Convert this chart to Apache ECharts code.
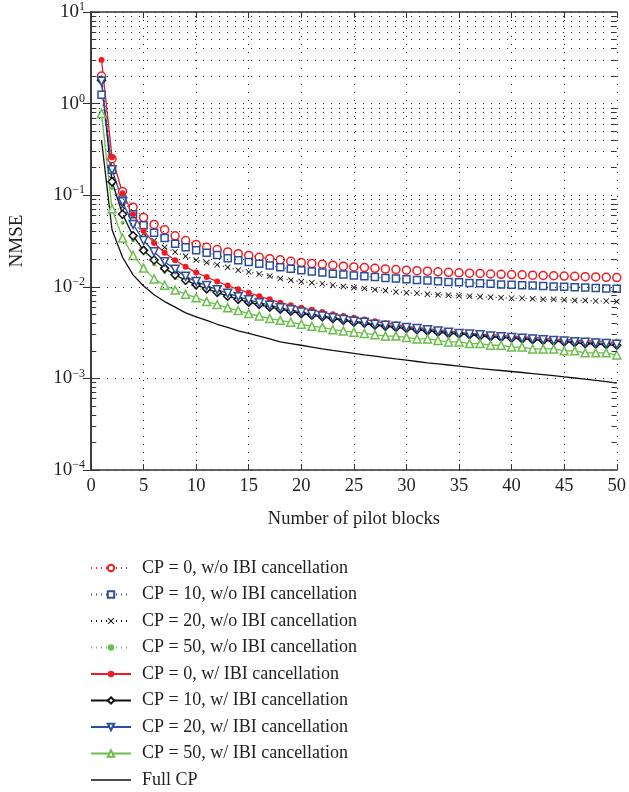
<!DOCTYPE html>
<html>
<head>
<meta charset="utf-8">
<script src="https://cdn.jsdelivr.net/npm/echarts@6/dist/echarts.min.js"></script>
<style>
  html, body { margin: 0; padding: 0; background: #fff; }
  #main { width: 629px; height: 792px; }
</style>
</head>
<body>
<div id="main"></div>
<script>
// number of pilot blocks
var blocks = [];
for (var i = 1; i <= 50; i++) blocks.push(i);

var seriesNames = [
  "CP = 0, w/o IBI cancellation",
  "CP = 10, w/o IBI cancellation",
  "CP = 20, w/o IBI cancellation",
  "CP = 50, w/o IBI cancellation",
  "CP = 0, w/ IBI cancellation",
  "CP = 10, w/ IBI cancellation",
  "CP = 20, w/ IBI cancellation",
  "CP = 50, w/ IBI cancellation",
  "Full CP"
];

var cp0NoCanc = [2.0, 0.25, 0.11, 0.074, 0.057, 0.048, 0.042, 0.036, 0.032, 0.029,
  0.027, 0.0255, 0.024, 0.023, 0.022, 0.021, 0.0203, 0.0197, 0.019, 0.0184,
  0.018, 0.0176, 0.0172, 0.0168, 0.0165, 0.0162, 0.0159, 0.0156, 0.0154, 0.0152,
  0.015, 0.0148, 0.0146, 0.0144, 0.0142, 0.0141, 0.014, 0.0138, 0.0137, 0.0136,
  0.0135, 0.0134, 0.0133, 0.0132, 0.0131, 0.013, 0.0129, 0.0128, 0.0127, 0.0126];

var cp10NoCanc = [1.25, 0.19, 0.09, 0.062, 0.047, 0.039, 0.034, 0.0295, 0.027, 0.025,
  0.0235, 0.0222, 0.0205, 0.0195, 0.0186, 0.0178, 0.0171, 0.0163, 0.0157, 0.0152,
  0.0147, 0.0143, 0.0139, 0.0136, 0.0133, 0.013, 0.0128, 0.0125, 0.0123, 0.0121,
  0.0119, 0.0117, 0.0115, 0.0113, 0.0112, 0.011, 0.0109, 0.0108, 0.0106, 0.0105,
  0.0104, 0.0103, 0.0102, 0.0101, 0.01, 0.0099, 0.0098, 0.0097, 0.0096, 0.0095];

var cp20NoCanc = [1.8, 0.15, 0.075, 0.05, 0.038, 0.032, 0.027, 0.024, 0.0215, 0.0196,
  0.0184, 0.0174, 0.0163, 0.0152, 0.0145, 0.0138, 0.0131, 0.0123, 0.0118, 0.0114,
  0.0111, 0.0108, 0.0104, 0.0101, 0.0098, 0.0096, 0.0093, 0.0091, 0.0088, 0.0086,
  0.0085, 0.0083, 0.0082, 0.0081, 0.008, 0.0079, 0.0078, 0.0077, 0.0076, 0.0075,
  0.0075, 0.0074, 0.0073, 0.0073, 0.0072, 0.0071, 0.0071, 0.007, 0.007, 0.0069];

var cp50NoCanc = [0.75, 0.12, 0.05, 0.032, 0.024, 0.0175, 0.0145, 0.0125, 0.011, 0.0098,
  0.009, 0.0083, 0.0077, 0.0072, 0.0067, 0.0063, 0.006, 0.0057, 0.0054, 0.0051,
  0.0049, 0.0047, 0.0045, 0.0043, 0.0042, 0.004, 0.0039, 0.0038, 0.0037, 0.0036,
  0.0035, 0.0034, 0.0033, 0.0033, 0.0032, 0.0031, 0.0031, 0.003, 0.003, 0.0029,
  0.0029, 0.0028, 0.0028, 0.0027, 0.0027, 0.0027, 0.0026, 0.0026, 0.0026, 0.0026];

var cp0Canc = [3.0, 0.26, 0.105, 0.062, 0.041, 0.030, 0.0235, 0.0195, 0.0166, 0.0143,
  0.0128, 0.0114, 0.0103, 0.0094, 0.0086, 0.0079, 0.0073, 0.0067, 0.0063, 0.0059,
  0.0056, 0.0053, 0.005, 0.0048, 0.0046, 0.0044, 0.0042, 0.004, 0.0039, 0.0037,
  0.0036, 0.0035, 0.0034, 0.0033, 0.0032, 0.0031, 0.00305, 0.003, 0.00295, 0.0029,
  0.00285, 0.0028, 0.00275, 0.0027, 0.00266, 0.00262, 0.00258, 0.00254, 0.0025, 0.00246];

var cp10Canc = [1.8, 0.14, 0.062, 0.036, 0.025, 0.0196, 0.0159, 0.0135, 0.0118, 0.0105,
  0.0095, 0.0087, 0.0079, 0.0073, 0.0068, 0.0064, 0.006, 0.0057, 0.0054, 0.0051,
  0.0049, 0.0047, 0.0045, 0.0043, 0.0041, 0.004, 0.0038, 0.0037, 0.0036, 0.0035,
  0.0034, 0.0033, 0.0032, 0.0031, 0.00305, 0.003, 0.0029, 0.00285, 0.0028, 0.00275,
  0.0027, 0.00265, 0.0026, 0.00255, 0.0025, 0.00245, 0.0024, 0.00237, 0.00234, 0.0023];

var cp20Canc = [1.75, 0.19, 0.085, 0.048, 0.032, 0.0241, 0.0188, 0.0155, 0.013, 0.0114,
  0.0103, 0.0093, 0.0085, 0.0078, 0.0072, 0.0067, 0.0063, 0.0059, 0.0056, 0.0053,
  0.005, 0.0048, 0.0046, 0.0044, 0.0042, 0.0041, 0.0039, 0.0038, 0.0037, 0.0036,
  0.0035, 0.0034, 0.0033, 0.0032, 0.0031, 0.00305, 0.003, 0.0029, 0.00285, 0.0028,
  0.00275, 0.0027, 0.00265, 0.0026, 0.00256, 0.00252, 0.00248, 0.00244, 0.0024, 0.00236];

var cp50Canc = [0.78, 0.071, 0.034, 0.022, 0.016, 0.0122, 0.0104, 0.0092, 0.0083, 0.0076,
  0.0069, 0.0064, 0.0059, 0.0055, 0.0051, 0.0048, 0.0045, 0.0043, 0.0041, 0.0039,
  0.0037, 0.0036, 0.0034, 0.0033, 0.0032, 0.0031, 0.003, 0.0029, 0.0029, 0.0028,
  0.0027, 0.0027, 0.0026, 0.0025, 0.0025, 0.0024, 0.0024, 0.0023, 0.0023, 0.0022,
  0.0022, 0.0021, 0.0021, 0.0021, 0.002, 0.002, 0.0019, 0.0019, 0.0019, 0.0018];

var fullCp = [0.4, 0.042, 0.021, 0.0135, 0.0102, 0.0082, 0.0069, 0.006, 0.0052, 0.0047,
  0.0043, 0.0039, 0.0036, 0.0033, 0.0031, 0.0029, 0.0027, 0.0025, 0.0024, 0.0023,
  0.0022, 0.0021, 0.00202, 0.00195, 0.00188, 0.00181, 0.00175, 0.00169, 0.00163, 0.00158,
  0.00153, 0.00148, 0.00144, 0.0014, 0.00136, 0.00132, 0.00128, 0.00125, 0.00122, 0.00119,
  0.00116, 0.00113, 0.0011, 0.00107, 0.00104, 0.00101, 0.00098, 0.00095, 0.00092, 0.00089];

var FONT = "Liberation Serif";
var crossPath = "path://M0,1L1,0L5,4L9,0L10,1L6,5L10,9L9,10L5,6L1,10L0,9L4,5Z";

function pairs(vals) {
  return vals.map(function (v, i) { return [blocks[i], v]; });
}

// minor decade values 2..9 x 10^k, used for the dotted grid and small ticks
var minorVals = [];
for (var k = -4; k <= 0; k++) {
  for (var m = 2; m <= 9; m++) minorVals.push(m * Math.pow(10, k));
}
var minorLines = [];
minorVals.forEach(function (v) {
  minorLines.push({ yAxis: v, lineStyle: { type: [1, 7], color: "#222", width: 1 } });
  minorLines.push([{ coord: [0, v], lineStyle: { type: "solid", color: "#333", width: 1 } }, { coord: [0.5, v] }]);
  minorLines.push([{ coord: [49.5, v], lineStyle: { type: "solid", color: "#333", width: 1 } }, { coord: [50, v] }]);
});

function mkSeries(name, data, color, lineType, symbol, size, filled, rotate) {
  return {
    name: name,
    type: "line",
    data: pairs(data),
    symbol: symbol,
    symbolSize: size,
    symbolRotate: rotate || 0,
    showAllSymbol: true,
    color: color,
    lineStyle: { color: color, width: lineType === "solid" ? 1.3 : 1.2, type: lineType },
    itemStyle: filled ? { color: color } : { color: "#fff", borderColor: color, borderWidth: 1.5 },
    emphasis: { disabled: true },
    animation: false,
    z: 3
  };
}

var series = [
  mkSeries(seriesNames[0], cp0NoCanc, "#ee1c24", [1, 4], "circle", 8, false),
  mkSeries(seriesNames[1], cp10NoCanc, "#2b4f9e", [1, 4], "rect", 7, false),
  mkSeries(seriesNames[2], cp20NoCanc, "#111", [1, 4], crossPath, 6, true),
  mkSeries(seriesNames[3], cp50NoCanc, "#6abf4b", [1, 4], "circle", 4, true),
  mkSeries(seriesNames[4], cp0Canc, "#ee1c24", "solid", "circle", 6, true),
  mkSeries(seriesNames[5], cp10Canc, "#111", "solid", "diamond", 8, false),
  mkSeries(seriesNames[6], cp20Canc, "#2b4f9e", "solid", "triangle", 8, false, 180),
  mkSeries(seriesNames[7], cp50Canc, "#6abf4b", "solid", "triangle", 8, false),
  mkSeries(seriesNames[8], fullCp, "#111", "solid", "none", 0, true)
];
series[8].markLine = {
  silent: true,
  symbol: "none",
  label: { show: false },
  animation: false,
  data: minorLines
};

var legendData = seriesNames.map(function (n) { return { name: n }; });
legendData[8].icon = "path://M0,0L40,0L40,1.4L0,1.4Z";

var chart = echarts.init(document.getElementById("main"));
chart.setOption({
  animation: false,
  backgroundColor: "#fff",
  grid: { left: 91, right: 11, top: 12, height: 458 },
  legend: {
    orient: "vertical",
    left: 90,
    top: 559,
    padding: 0,
    itemWidth: 40,
    itemHeight: 8,
    itemGap: 8.5,
    data: legendData,
    textStyle: { fontFamily: FONT, fontSize: 18, color: "#222", padding: [0, 0, 0, 6] }
  },
  xAxis: [
    {
      type: "value",
      min: 0,
      max: 50,
      interval: 5,
      name: "Number of pilot blocks",
      nameLocation: "middle",
      nameGap: 40,
      nameTextStyle: { fontFamily: FONT, fontSize: 18.5, color: "#222" },
      axisLine: { lineStyle: { color: "#333", width: 1.5 } },
      axisTick: { inside: true, length: 6, lineStyle: { color: "#333" } },
      axisLabel: { fontFamily: FONT, fontSize: 18.5, color: "#222", margin: 7 },
      splitLine: { show: true, lineStyle: { type: [1, 7], color: "#222" } }
    },
    {
      type: "value",
      position: "top",
      min: 0,
      max: 50,
      interval: 5,
      axisLine: { lineStyle: { color: "#333", width: 1.5 } },
      axisTick: { inside: true, length: 6, lineStyle: { color: "#333" } },
      axisLabel: { show: false },
      splitLine: { show: false }
    }
  ],
  yAxis: [
    {
      type: "log",
      logBase: 10,
      min: 1e-4,
      max: 10,
      name: "NMSE",
      nameLocation: "middle",
      nameGap: 64,
      nameTextStyle: { fontFamily: FONT, fontSize: 19, color: "#222" },
      axisLine: { lineStyle: { color: "#333", width: 1.5 } },
      axisTick: { inside: true, length: 8, lineStyle: { color: "#333" } },
      splitLine: { show: true, lineStyle: { type: [1, 7], color: "#222" } },
      axisLabel: {
        margin: 6,
        formatter: function (v) {
          var e = Math.round(Math.log10(v));
          var s = e < 0 ? "\u2212" + (-e) : String(e);
          return "{b|10}{s|" + s + "}";
        },
        rich: {
          b: { fontFamily: FONT, fontSize: 19, color: "#222", lineHeight: 22 },
          s: { fontFamily: FONT, fontSize: 12, color: "#222", verticalAlign: "top", lineHeight: 14 }
        }
      }
    },
    {
      type: "log",
      logBase: 10,
      min: 1e-4,
      max: 10,
      position: "right",
      axisLine: { show: true, lineStyle: { color: "#333", width: 1.5 } },
      axisTick: { show: true, inside: true, length: 8, lineStyle: { color: "#333" } },
      axisLabel: { show: false },
      splitLine: { show: false }
    }
  ],
  series: series
});
</script>
</body>
</html>
